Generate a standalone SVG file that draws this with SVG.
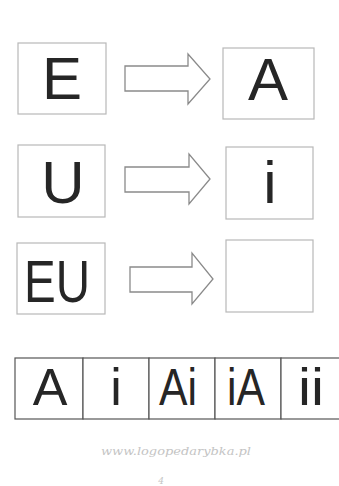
<svg xmlns="http://www.w3.org/2000/svg" width="339" height="486" viewBox="0 0 339 486">
<style>
.box{fill:#fff;stroke:#b8b8b8;stroke-width:1.2}
.cell{fill:#fff;stroke:#555;stroke-width:1.2}
.arr{fill:#fff;stroke:#8a8a8a;stroke-width:1.3;stroke-linejoin:miter}
.big{font-family:"Liberation Sans","DejaVu Sans",sans-serif;font-size:60px;fill:#262626;text-anchor:middle}
.mid{font-family:"Liberation Sans","DejaVu Sans",sans-serif;font-size:52px;fill:#262626;text-anchor:middle}
.foot{font-family:"DejaVu Serif","Liberation Serif",serif;font-style:italic;fill:#c4c4c4;text-anchor:middle}
</style>
<rect width="339" height="486" fill="#fff"/>
<g id="nodeE"><rect class="box" x="18" y="43" width="88" height="71"/><text class="big" x="62" y="99">E</text></g>
<g id="nodeA"><rect class="box" x="223" y="48" width="91" height="71"/><text class="big" x="268" y="100">A</text></g>
<g id="nodeU"><rect class="box" x="18" y="145" width="87" height="72"/><text class="big" x="63" y="203">U</text></g>
<g id="nodeI"><rect class="box" x="226" y="147" width="87" height="72"/><text class="big" x="270" y="203">i</text></g>
<g id="nodeEU"><rect class="box" x="17" y="243" width="88" height="71"/><text class="big" x="57" y="302" textLength="66" lengthAdjust="spacingAndGlyphs">EU</text></g>
<g id="nodeEmpty"><rect class="box" x="226" y="240" width="87" height="72"/></g>
<g id="connectors">
<polygon class="arr" points="125,66 188,66 188,54 210,79 188,104 188,91 125,91"/>
<polygon class="arr" points="125,167 189,167 189,154 210,179 189,204 189,192 125,192"/>
<polygon class="arr" points="130,267 192,267 192,253 213,279 192,304 192,292 130,292"/>
</g>
<g id="answers">
<rect class="cell" x="15" y="358" width="68" height="61"/>
<rect class="cell" x="83" y="358" width="66" height="61"/>
<rect class="cell" x="149" y="358" width="66" height="61"/>
<rect class="cell" x="215" y="358" width="66" height="61"/>
<rect class="cell" x="281" y="358" width="66" height="61"/>
<text class="mid" x="50" y="405">A</text>
<text class="mid" x="116" y="405">i</text>
<text class="mid" x="178" y="405" textLength="38" lengthAdjust="spacingAndGlyphs">Ai</text>
<text class="mid" x="246" y="405" textLength="38" lengthAdjust="spacingAndGlyphs">iA</text>
<text class="mid" x="311" y="405" textLength="26" lengthAdjust="spacingAndGlyphs">ii</text>
</g>
<text class="foot" x="176" y="455" font-size="11" textLength="150" lengthAdjust="spacingAndGlyphs">www.logopedarybka.pl</text>
<text class="foot" x="161" y="484" font-size="9">4</text>
</svg>
